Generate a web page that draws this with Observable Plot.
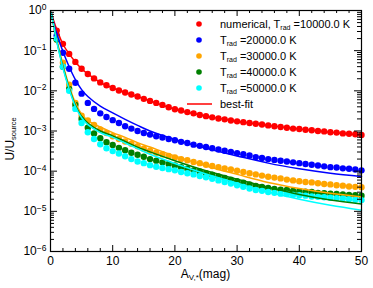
<!DOCTYPE html>
<html><head><meta charset="utf-8">
<script src="https://cdn.jsdelivr.net/npm/d3@7"></script>
<script src="https://cdn.jsdelivr.net/npm/@observablehq/plot@0.6"></script>
<style>body{margin:0;background:#fff}#chart{width:373px;height:288px}</style>
</head><body><div id="chart"></div>
<script>
// A_V,* (mag) of the numerical points
const avMag = [1,2,3,4,5,6,7,8,9,10,11,12,13,14,15,16,17,18,19,20,21,22,23,24,25,26,27,28,29,30,31,32,33,34,35,36,37,38,39,40,41,42,43,44,45,46,47,48,49,50];
// log10(U/Usource), numerical points
const red10k = [-0.50,-0.83,-1.08,-1.28,-1.45,-1.58,-1.69,-1.79,-1.86,-1.93,-1.99,-2.04,-2.09,-2.14,-2.20,-2.25,-2.30,-2.35,-2.41,-2.46,-2.49,-2.53,-2.56,-2.60,-2.63,-2.66,-2.69,-2.71,-2.74,-2.76,-2.78,-2.80,-2.82,-2.84,-2.86,-2.88,-2.90,-2.92,-2.94,-2.95,-2.97,-2.98,-3.00,-3.01,-3.03,-3.04,-3.06,-3.07,-3.08,-3.10];
const blue20k = [-0.62,-1.05,-1.45,-1.80,-2.07,-2.30,-2.45,-2.56,-2.65,-2.73,-2.80,-2.88,-2.94,-3.00,-3.05,-3.09,-3.13,-3.16,-3.20,-3.23,-3.27,-3.30,-3.34,-3.37,-3.40,-3.43,-3.46,-3.49,-3.52,-3.55,-3.58,-3.61,-3.65,-3.67,-3.70,-3.72,-3.74,-3.76,-3.78,-3.80,-3.82,-3.84,-3.86,-3.88,-3.90,-3.91,-3.93,-3.94,-3.96,-3.98];
const orange30k = [-0.72,-1.30,-1.85,-2.30,-2.62,-2.74,-2.85,-2.96,-3.05,-3.13,-3.20,-3.26,-3.32,-3.38,-3.44,-3.49,-3.54,-3.58,-3.62,-3.66,-3.70,-3.73,-3.77,-3.80,-3.84,-3.87,-3.90,-3.93,-3.96,-3.99,-4.02,-4.05,-4.08,-4.11,-4.14,-4.16,-4.18,-4.21,-4.23,-4.25,-4.27,-4.28,-4.30,-4.32,-4.33,-4.35,-4.36,-4.38,-4.39,-4.40];
const green40k = [-0.72,-1.40,-1.95,-2.35,-2.70,-2.92,-3.06,-3.18,-3.28,-3.35,-3.42,-3.48,-3.54,-3.59,-3.64,-3.70,-3.74,-3.78,-3.82,-3.86,-3.90,-3.94,-3.98,-4.01,-4.05,-4.09,-4.13,-4.17,-4.21,-4.25,-4.29,-4.33,-4.37,-4.39,-4.42,-4.44,-4.46,-4.47,-4.49,-4.50,-4.51,-4.52,-4.54,-4.55,-4.56,-4.57,-4.58,-4.59,-4.60,-4.61];
const cyan50k = [-0.70,-1.40,-2.00,-2.45,-2.80,-3.03,-3.20,-3.33,-3.43,-3.50,-3.56,-3.63,-3.70,-3.76,-3.80,-3.85,-3.89,-3.92,-3.95,-3.98,-4.02,-4.05,-4.08,-4.12,-4.15,-4.19,-4.23,-4.27,-4.31,-4.35,-4.39,-4.43,-4.47,-4.49,-4.52,-4.54,-4.56,-4.57,-4.59,-4.60,-4.61,-4.63,-4.64,-4.65,-4.66,-4.67,-4.68,-4.70,-4.71,-4.72];
// best-fit curves, log10(U/Usource)
const fitA = [0.1,0.5,1,2,3,4,5,6,8,10,12,14,16,20,25,30,35,40,45,50];
const fitRed = [-0.05,-0.25,-0.47,-0.84,-1.08,-1.28,-1.45,-1.58,-1.79,-1.93,-2.04,-2.14,-2.25,-2.46,-2.63,-2.76,-2.86,-2.95,-3.03,-3.10];
const fitBlue = [-0.05,-0.30,-0.58,-1.02,-1.40,-1.72,-1.97,-2.14,-2.38,-2.55,-2.71,-2.86,-3.00,-3.21,-3.43,-3.62,-3.80,-3.94,-4.05,-4.13];
const fitOrange = [-0.05,-0.35,-0.72,-1.35,-1.88,-2.30,-2.58,-2.74,-2.90,-3.04,-3.16,-3.29,-3.40,-3.62,-3.87,-4.08,-4.28,-4.43,-4.55,-4.64];
const fitGreen = [-0.05,-0.36,-0.75,-1.40,-1.93,-2.36,-2.64,-2.80,-3.00,-3.12,-3.26,-3.40,-3.52,-3.74,-3.99,-4.20,-4.40,-4.58,-4.72,-4.82];
const fitCyan = [-0.05,-0.37,-0.77,-1.43,-1.96,-2.39,-2.67,-2.84,-3.04,-3.16,-3.30,-3.44,-3.58,-3.81,-4.07,-4.30,-4.52,-4.70,-4.85,-4.97];
const tempLabels = ["10000.0","20000.0","30000.0","40000.0","50000.0"];
const colors = ["#ff0000","#0000ff","#ffa500","#008000","#00ffff"];
const xMajor = [0,10,20,30,40,50];
const xMinor = [2,4,6,8,12,14,16,18,22,24,26,28,32,34,36,38,42,44,46,48];
const yMajor = [1e-6,1e-5,1e-4,1e-3,1e-2,1e-1,1];

const dotSeries = [red10k, blue20k, orange30k, green40k, cyan50k];
const fitSeries = [fitRed, fitBlue, fitOrange, fitGreen, fitCyan];
const dots = [], fits = [];
dotSeries.forEach((s, k) => s.forEach((v, i) => dots.push({A: avMag[i], U: Math.pow(10, v), c: colors[k]})));
fitSeries.forEach((s, k) => s.forEach((v, i) => fits.push({A: fitA[i], U: Math.pow(10, v), c: colors[k], k})));
const yMinor = [];
yMajor.slice(0, -1).forEach(d => [2,3,4,5,6,7,8,9].forEach(m => yMinor.push(d * m)));

const W = 373, H = 288, mL = 50, mR = 12, mT = 10, mB = 37;
const pw = W - mL - mR, ph = H - mT - mB;
const font = "'Liberation Sans', Arial, Helvetica, sans-serif";

const svg = Plot.plot({
  width: W, height: H, marginLeft: mL, marginRight: mR, marginTop: mT, marginBottom: mB,
  x: {domain: [0, 50]},
  y: {type: "log", domain: [1e-6, 1]},
  color: {type: "identity"},
  style: {fontFamily: font, fontSize: "12px", color: "#000", background: "#fff", overflow: "visible"},
  marks: [
    Plot.dot(dots, {x: "A", y: "U", r: 3.2, fill: "c"}),
    Plot.line(fits, {x: "A", y: "U", z: "k", stroke: "c", strokeWidth: 1.5, curve: "catmull-rom"}),
    Plot.frame({stroke: "#000", strokeWidth: 1.2}),
    Plot.tickX(xMajor, {x: d => d, insetTop: ph - 6, stroke: "#000"}),
    Plot.tickX(xMajor, {x: d => d, insetBottom: ph - 6, stroke: "#000"}),
    Plot.tickX(xMinor, {x: d => d, insetTop: ph - 3, stroke: "#000"}),
    Plot.tickX(xMinor, {x: d => d, insetBottom: ph - 3, stroke: "#000"}),
    Plot.tickY(yMajor, {y: d => d, insetRight: pw - 7, stroke: "#000"}),
    Plot.tickY(yMajor, {y: d => d, insetLeft: pw - 7, stroke: "#000"}),
    Plot.tickY(yMinor, {y: d => d, insetRight: pw - 4, stroke: "#000"}),
    Plot.tickY(yMinor, {y: d => d, insetLeft: pw - 4, stroke: "#000"}),
    Plot.axisX({ticks: xMajor, tickSize: 0, tickPadding: 5, label: null, fontSize: 12}),
    Plot.axisY({ticks: yMajor, tickSize: 0, tickPadding: 4, label: null, fontSize: 12,
      tickFormat: d => String(Math.round(Math.log10(d)))})
  ]
});
document.getElementById("chart").appendChild(svg);

const s = d3.select(svg);
// superscript exponents on y tick labels
s.selectAll('g[aria-label="y-axis tick label"] text').each(function () {
  const e = +this.textContent;
  const t = d3.select(this);
  t.text(null);
  t.append("tspan").text("10");
  t.append("tspan").attr("dy", "-0.5em").attr("font-size", "8.5px").text(e === 0 ? "0" : "\u2212" + Math.abs(e));
});

// axis titles
const xt = s.append("text").attr("x", mL + pw * 0.5).attr("y", 278).attr("text-anchor", "middle")
  .attr("font-family", font).attr("font-size", "12px").attr("fill", "#000");
xt.append("tspan").text("A");
xt.append("tspan").attr("font-size", "8px").attr("dy", "2").text("V,*");
xt.append("tspan").attr("dy", "-2").text("(mag)");

const yt = s.append("text").attr("transform", `translate(14,139) rotate(-90)`)
  .attr("text-anchor", "middle").attr("font-family", font).attr("font-size", "12px").attr("fill", "#000");
yt.append("tspan").text("U/U");
yt.append("tspan").attr("font-size", "7.5px").attr("dy", "2").text("source");

// legend
const lg = s.append("g").attr("font-family", font).attr("font-size", "11px").attr("fill", "#000")
  .attr("text-anchor", "start");
const rowY = [24, 40, 56, 72, 88];
tempLabels.forEach((t, k) => {
  lg.append("circle").attr("cx", 199).attr("cy", rowY[k]).attr("r", 2.8).attr("fill", colors[k]);
  const tx = lg.append("text").attr("x", 220).attr("y", rowY[k] + 4).attr("text-anchor", "start");
  if (k === 0) tx.append("tspan").text("numerical, T");
  else tx.append("tspan").text("T");
  tx.append("tspan").attr("font-size", "7px").attr("dy", "2").text("rad");
  tx.append("tspan").attr("dy", "-2").text(" =" + t + " K");
});
lg.append("line").attr("x1", 187).attr("x2", 212).attr("y1", 104).attr("y2", 104)
  .attr("stroke", colors[0]).attr("stroke-width", 1.5);
lg.append("text").attr("x", 220).attr("y", 108).attr("text-anchor", "start").text("best-fit");
</script>
</body></html>
